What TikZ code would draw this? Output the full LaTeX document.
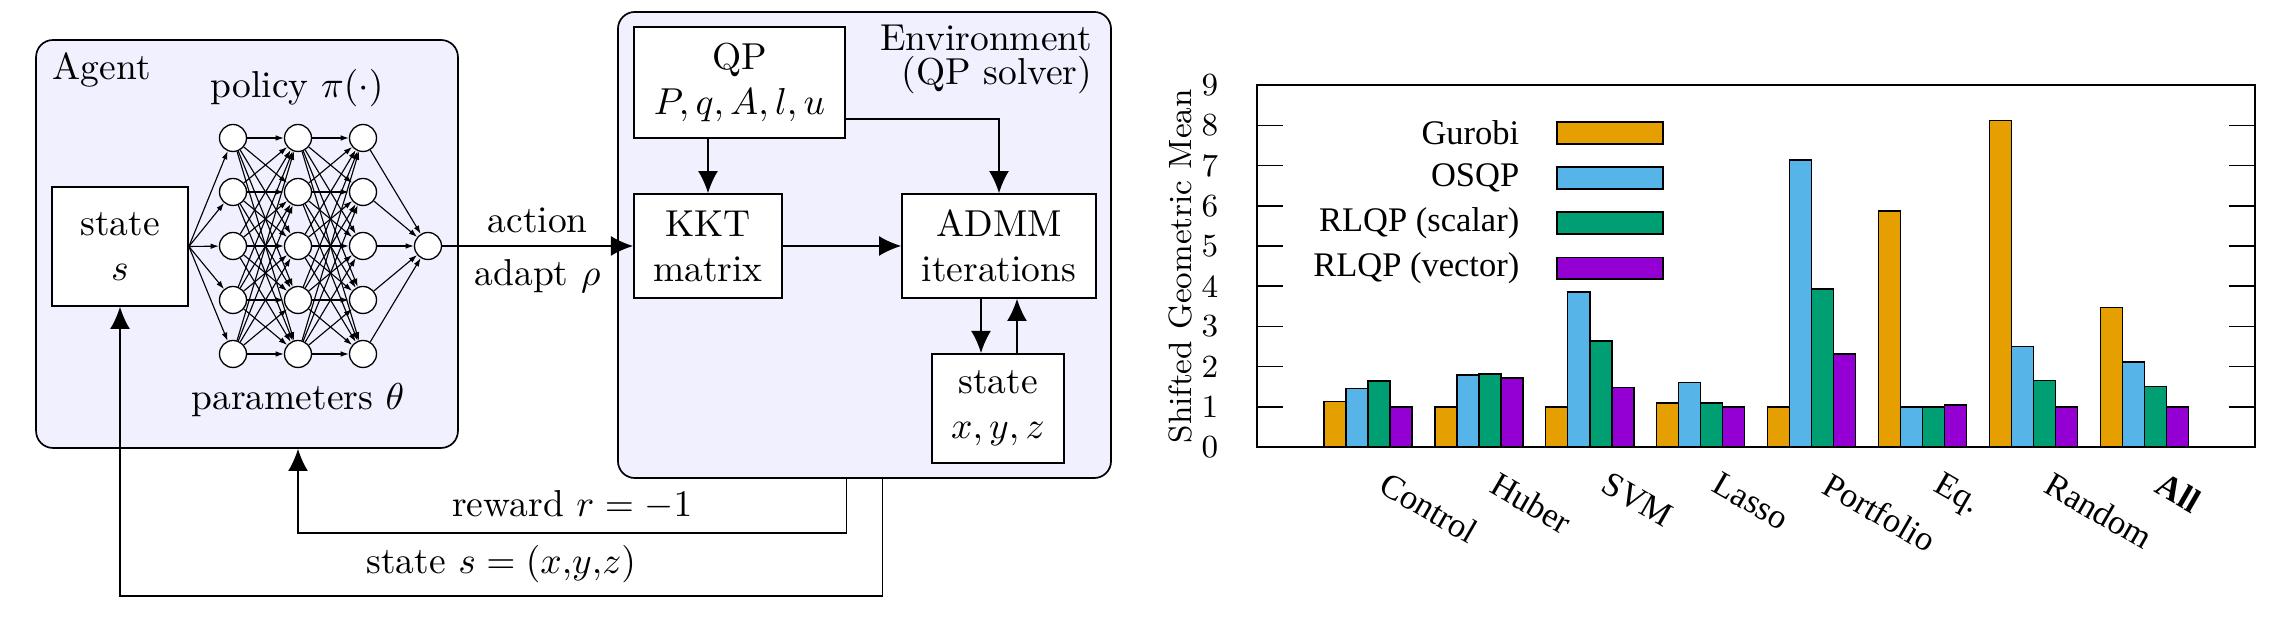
\documentclass[tikz,border=0pt]{standalone}
\usepackage{fontspec}
\newfontfamily\chartfont{Liberation Serif}
\usetikzlibrary{arrows.meta}

\definecolor{panelfill}{RGB}{240,240,255}
\definecolor{gurobi}{HTML}{E69F00}
\definecolor{osqp}{HTML}{56B4E9}
\definecolor{rlqps}{HTML}{009E73}
\definecolor{rlqpv}{HTML}{9400D3}

\tikzset{
	panel/.style = {draw, fill = panelfill, rounded corners = 4.5pt, line width = 0.45pt},
	block/.style = {draw, fill = white, align = center, inner sep = 0pt, line width = 0.45pt},
	neuron/.style = {draw, circle, fill = white, minimum size = 7.2pt, inner sep = 0pt, line width = 0.35pt},
	wire/.style = {-{Latex[length = 2.2pt, width = 1.5pt]}, line width = 0.3pt},
	bar/.style = {draw, line width = 0.4pt},
	axisnum/.style = {inner sep = 0pt, font = \fontsize{8.6}{10}\selectfont},
	chartlbl/.style = {inner sep = 0pt, font = \chartfont\fontsize{9.2}{11}\selectfont}
}

\begin{document}
\begin{tikzpicture}[x = 0.2667pt, y = -0.2667pt, > = {Latex[length = 5.9pt, width = 5.3pt]}, line width = 0.45pt]

	\useasboundingbox (0, 0) rectangle (2287, 638);

	% Agent

	\node [panel, minimum width = 112.5pt, minimum height = 108.8pt] (agent) at (247, 244) {};
	\node [anchor = base west, inner sep = 0pt] (agentname) at (52, 80) {Agent};
	\node [anchor = base] (policy) at (297, 98) {policy $\pi(\cdot)$};
	\node [anchor = base] (params) at (298, 410) {parameters $\theta$};
	\node [block, minimum width = 36.3pt, minimum height = 31.7pt] (sin) at (120, 246.5) {state\\$s$};

	% Policy network

	\foreach \l in {1, 2, 3}
		\foreach \i in {1, ..., 5}
			\node [neuron] (n\l-\i) at ({233 + 65*(\l - 1)}, {138 + 54*(\i - 1)}) {};
	\node [neuron] (out) at (428, 246) {};

	\foreach \i in {1, ..., 5} {
		\draw [wire] (sin.east) -- (n1-\i);
		\draw [wire] (n3-\i) -- (out);
		\foreach \j in {1, ..., 5} {
			\draw [wire] (n1-\i) -- (n2-\j);
			\draw [wire] (n2-\i) -- (n3-\j);
		}
	}

	% Environment

	\node [panel, minimum width = 131.5pt, minimum height = 124.3pt] (env) at (864.5, 245) {};
	\node [anchor = base east, inner sep = 0pt] (envname) at (1093, 51) {Environment};
	\node [anchor = base east, inner sep = 0pt] (envsub) at (1093, 85) {(QP solver)};
	\node [block, minimum width = 56.3pt, minimum height = 29.6pt] (qp) at (739.5, 82.5) {QP\\$P, q, A, l, u$};
	\node [block, minimum width = 39.5pt, minimum height = 27.7pt] (kkt) at (708, 246) {KKT\\matrix};
	\node [block, minimum width = 51.7pt, minimum height = 27.7pt] (admm) at (999, 246) {ADMM\\iterations};
	\node [block, minimum width = 35.2pt, minimum height = 29.1pt] (sx) at (998, 408.5) {state\\$x, y, z$};

	\draw [->] (kkt.north |- qp.south) -- (kkt);
	\draw [->] ([yshift = 5.3pt] qp.south east) -| (admm);
	\draw [->] (kkt) -- (admm);
	\draw [->] ([xshift = -4.8pt] admm.south) -- ([xshift = -4.8pt] admm.south |- sx.north);
	\draw [->] ([xshift = 4.8pt] admm.south |- sx.north) -- ([xshift = 4.8pt] admm.south);

	% Action and feedback

	\draw [->] (out) -- node [above] {action} node [below] {adapt $\rho$} (kkt);

	\coordinate (rewardrow) at (0, 533);
	\coordinate (staterow) at (0, 596);
	\draw [->] ([xshift = -4.8pt] env.south) |- node [pos = 0.75, above] {reward $r = -1$} (n2-3 |- rewardrow) -- (n2-3 |- agent.south);
	\draw [->] ([xshift = 4.8pt] env.south) |- node [pos = 0.75, above] {state $s = (x{,}y{,}z)$} (sin |- staterow) -- (sin);

	% Bar chart

	\begin{scope}[shift = {(1257, 447)}, x = 29.58pt, y = 10.72pt]

		\foreach \name/\g/\o/\s/\v [count = \k] in {Control/1.13/1.46/1.64/1.0, Huber/1.0/1.79/1.81/1.71, SVM/1.0/3.86/2.64/1.48, Lasso/1.10/1.60/1.09/1.0, Portfolio/1.0/7.14/3.93/2.31, Eq./5.87/1.0/1.0/1.04, Random/8.12/2.50/1.65/1.0, {\textbf{All}}/3.47/2.12/1.50/1.0} {
			\draw [bar, fill = gurobi] (\k - 0.397, 0) rectangle (\k - 0.1985, \g);
			\draw [bar, fill = osqp] (\k - 0.1985, 0) rectangle (\k, \o);
			\draw [bar, fill = rlqps] (\k, 0) rectangle (\k + 0.1985, \s);
			\draw [bar, fill = rlqpv] (\k + 0.1985, 0) rectangle (\k + 0.397, \v);
			\node [chartlbl, rotate = -30, anchor = north west] (cat\k) at (\k + 0.189, -0.572) {\name};
		}

		\draw (0, 0) rectangle (9, 9);
		\foreach \t in {1, ..., 8} {
			\draw (0, \t) -- (0.234, \t);
			\draw (9, \t) -- (8.766, \t);
		}
		\foreach \t in {0, ..., 9}
			\node [axisnum, anchor = east] (tick\t) at (-0.343, \t) {\t};
		\node [axisnum, rotate = 90] (ylabel) at (-0.694, 4.5) {Shifted Geometric Mean};

		% Legend

		\foreach \lbl/\col [count = \r] in {Gurobi/gurobi, OSQP/osqp, RLQP (scalar)/rlqps, RLQP (vector)/rlqpv} {
			\node [chartlbl, anchor = east] (leg\r) at (2.372, {7.81 - 1.12*(\r - 1)}) {\lbl};
			\draw [bar, fill = \col] (2.705, {7.54 - 1.12*(\r - 1)}) rectangle (3.661, {8.08 - 1.12*(\r - 1)});
		}

	\end{scope}

\end{tikzpicture}
\end{document}
